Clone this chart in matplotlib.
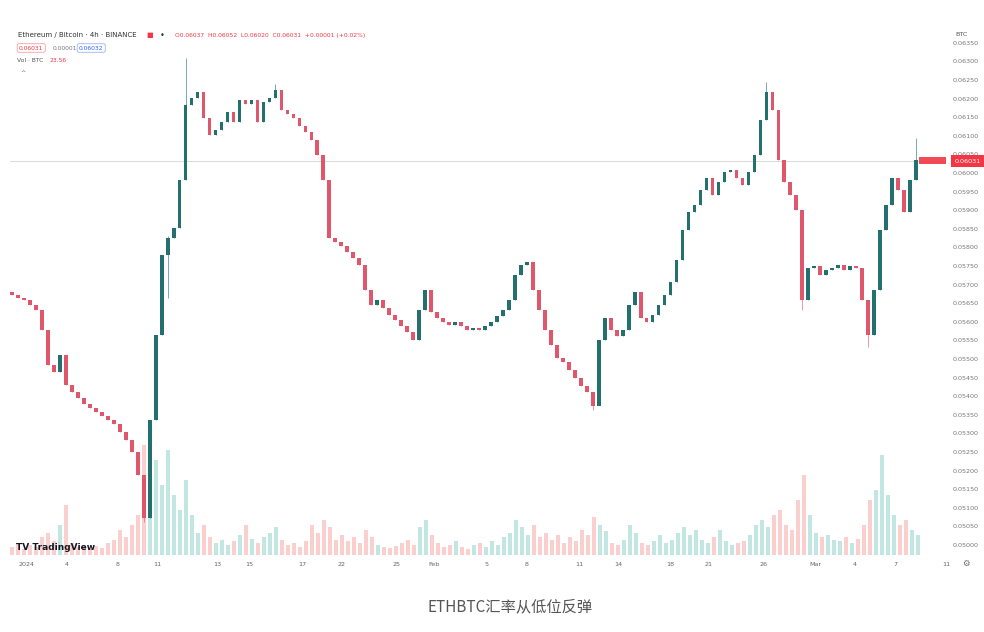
import matplotlib
matplotlib.use("Agg")
import matplotlib.pyplot as plt
import numpy as np

# ---------------- data ----------------
closes = [0.05672, 0.05664, 0.05659, 0.05645, 0.05632, 0.05578, 0.05484, 0.05465, 0.05511, 0.05430,
          0.05411, 0.05395, 0.05379, 0.05368, 0.05358, 0.05347, 0.05336, 0.05325, 0.05304, 0.05282,
          0.05250, 0.05188, 0.05073, 0.05336, 0.05565, 0.05780, 0.05826, 0.05852, 0.05982, 0.06183,
          0.06202, 0.06218, 0.06148, 0.06103, 0.06116, 0.06138, 0.06164, 0.06138, 0.06197, 0.06186,
          0.06197, 0.06138, 0.06191, 0.06202, 0.06224, 0.06170, 0.06159, 0.06148, 0.06127, 0.06111,
          0.06089, 0.06049, 0.05982, 0.05826, 0.05815, 0.05804, 0.05788, 0.05772, 0.05753, 0.05686,
          0.05645, 0.05659, 0.05637, 0.05619, 0.05605, 0.05589, 0.05573, 0.05551, 0.05632, 0.05686,
          0.05627, 0.05610, 0.05600, 0.05592, 0.05600, 0.05589, 0.05578, 0.05584, 0.05578, 0.05589,
          0.05600, 0.05616, 0.05632, 0.05659, 0.05726, 0.05753, 0.05761, 0.05686, 0.05632, 0.05578,
          0.05538, 0.05503, 0.05492, 0.05471, 0.05449, 0.05428, 0.05411, 0.05376, 0.05551, 0.05610,
          0.05578, 0.05562, 0.05578, 0.05645, 0.05680, 0.05610, 0.05600, 0.05619, 0.05645, 0.05672,
          0.05707, 0.05766, 0.05847, 0.05896, 0.05914, 0.05955, 0.05987, 0.05941, 0.05976, 0.06003,
          0.06009, 0.05987, 0.05968, 0.06003, 0.06049, 0.06143, 0.06218, 0.06170, 0.06035, 0.05976,
          0.05941, 0.05901, 0.05659, 0.05745, 0.05750, 0.05726, 0.05740, 0.05745, 0.05753, 0.05740,
          0.05750, 0.05745, 0.05659, 0.05565, 0.05686, 0.05847, 0.05914, 0.05987, 0.05955, 0.05896,
          0.05982, 0.06035]
first_open = 0.05680
# visible long wicks: candle index -> extreme price
wick_highs = {26: 0.05830, 29: 0.06310, 126: 0.06245, 151: 0.06094, 44: 0.06240}
wick_lows = {22: 0.05062, 26: 0.05664, 97: 0.05363, 143: 0.05532, 132: 0.05632}

volumes = [8, 12, 6, 10, 8, 18, 22, 14, 30, 50, 12, 8, 10, 6, 9, 7, 12, 15, 25, 18,
           30, 40, 110, 125, 95, 70, 105, 60, 45, 75, 40, 22, 30, 18, 12, 15, 10, 14, 20, 30,
           16, 12, 18, 22, 28, 15, 10, 12, 8, 14, 30, 22, 35, 28, 15, 20, 14, 18, 12, 25,
           18, 10, 8, 7, 9, 12, 15, 10, 28, 35, 20, 12, 8, 10, 14, 8, 6, 10, 12, 8,
           14, 10, 18, 22, 35, 28, 20, 30, 18, 22, 15, 20, 12, 18, 14, 25, 20, 38, 30, 24,
           12, 10, 15, 30, 22, 12, 10, 14, 20, 12, 15, 22, 28, 20, 25, 15, 12, 18, 25, 14,
           10, 12, 14, 20, 30, 35, 28, 40, 45, 30, 25, 55, 80, 40, 22, 18, 20, 15, 14, 18,
           12, 16, 30, 55, 65, 100, 60, 40, 30, 35, 25, 20]

last_price = 0.06031
date_labels = ["2024", "4", "8", "11", "13", "15", "17", "22", "25", "Feb", "5", "8", "11", "14",
               "18", "21", "26", "Mar", "4", "7", "11"]
date_tick_idx = [2.5, 9.2, 17.7, 24.3, 34.3, 39.7, 48.5, 55, 64.2, 70.5, 79.3, 86, 94.7, 101.3,
                 110, 116.3, 125.5, 134.2, 140.8, 147.5, 156]
price_ticks = [round(0.0500 + 0.0005 * k, 4) for k in range(28)]

# ---------------- figure ----------------
W, H = 984, 632
fig = plt.figure(figsize=(W / 100, H / 100), dpi=100)
fig.patch.set_facecolor("white")

L, R, T, B = 10, 946, 25, 555
rect = [L / W, 1 - B / H, (R - L) / W, (B - T) / H]

axv = fig.add_axes(rect, zorder=0)
ax = fig.add_axes(rect, zorder=1)
ax.patch.set_alpha(0)

n = len(closes)
idx = np.arange(n)
c = np.array(closes)
o = np.concatenate([[first_open], c[:-1]])
hi = np.maximum(o, c)
lo = np.minimum(o, c)
for k, v in wick_highs.items():
    hi[k] = v
for k, v in wick_lows.items():
    lo[k] = v

up_col = "#23706f"
dn_col = "#e0566a"
cols = [up_col if c[i] >= o[i] else dn_col for i in range(n)]

bodies = np.maximum(np.abs(c - o), 0.00006)
ax.vlines(idx, lo, hi, colors=cols, linewidth=0.6, alpha=0.7, zorder=2)
ax.bar(idx, bodies, bottom=np.minimum(o, c) - 0.00001, width=0.62, color=cols, linewidth=0, zorder=3)

# current price line
ax.axhline(last_price, color="#dcdcdc", linewidth=0.8, zorder=1)

# axes limits
y_per_px = 0.0005 / 18.6
ylo = 0.0500 - (B - 545) * y_per_px
yhi = 0.0500 + (545 - T) * y_per_px
ax.set_ylim(ylo, yhi)
ax.set_xlim(-1 / 3, 155.67)
axv.set_xlim(-1 / 3, 155.67)

# volume
vcols = ["#26a69a" if c[i] >= o[i] else "#ef5350" for i in range(n)]
axv.bar(idx, volumes, width=0.75, color=vcols, alpha=0.28, linewidth=0)
axv.set_ylim(0, max(volumes) * (B - T) / 125)
axv.axis("off")

for s in ax.spines.values():
    s.set_visible(False)
ax.yaxis.tick_right()
ax.set_yticks(price_ticks)
ax.set_yticklabels([f"{p:.5f}" for p in price_ticks], fontsize=4.6, color="#777777")
ax.tick_params(axis="y", length=0, pad=5)
ax.set_xticks(date_tick_idx)
ax.set_xticklabels(date_labels, fontsize=4.6, color="#666666")
ax.tick_params(axis="x", length=0, pad=5)
for t in ax.get_xticklabels():
    t.set_clip_on(False)

# current price label on scale
ax.annotate(f"{last_price:.5f}", xy=(1.0, last_price), xycoords=("axes fraction", "data"),
            xytext=(6, 0), textcoords="offset points", fontsize=4.6, color="white",
            va="center", ha="left",
            bbox=dict(boxstyle="square,pad=0.55", fc="#f23645", ec="none"), annotation_clip=False)
ax.axhspan(last_price - 0.00008, last_price + 0.00012, xmin=(919 - L) / (R - L), xmax=1.0,
           color="#f23645", alpha=0.9, zorder=4, linewidth=0)

# header
def ftxt(x, y, s, **kw):
    fig.text(x / W, 1 - y / H, s, **kw)

ftxt(18, 35, "Ethereum / Bitcoin · 4h · BINANCE", fontsize=5.0, color="#333333", va="center")
ftxt(146, 35, "■", fontsize=5, color="#f23645", va="center")
ftxt(160, 35, "•", fontsize=6, color="#333333", va="center")
ftxt(175, 35, "O0.06037  H0.06052  L0.06020  C0.06031  +0.00001 (+0.02%)", fontsize=4.3,
     color="#f23645", va="center")
ftxt(19, 48, "0.06031", fontsize=4.3, color="#f23645", va="center",
     bbox=dict(boxstyle="round,pad=0.3", fc="white", ec="#f5a0a8", lw=0.6))
ftxt(53, 48, "0.00001", fontsize=4.3, color="#777777", va="center")
ftxt(79, 48, "0.06032", fontsize=4.3, color="#2962ff", va="center",
     bbox=dict(boxstyle="round,pad=0.3", fc="white", ec="#9db4f5", lw=0.6))
ftxt(17, 60, "Vol · BTC", fontsize=4.3, color="#555555", va="center")
ftxt(49, 60, "23.56", fontsize=4.3, color="#f23645", va="center")
ftxt(20, 72, "^", fontsize=4.5, color="#555555", va="center")

ftxt(955, 35, "BTC", fontsize=4.6, color="#555555", va="center")
ftxt(962, 563, "⚙", fontsize=6, color="#666666", va="center")

ftxt(16, 547, "TV TradingView", fontsize=6.5, color="#131722", va="center", fontweight="bold")

fig.text(510 / W, 1 - 607 / H, "ETHBTC汇率从低位反弹", fontsize=11, color="#555555",
         ha="center", va="center", family=["Noto Sans CJK SC", "DejaVu Sans"])

fig.savefig("out.png", dpi=100, facecolor="white")
